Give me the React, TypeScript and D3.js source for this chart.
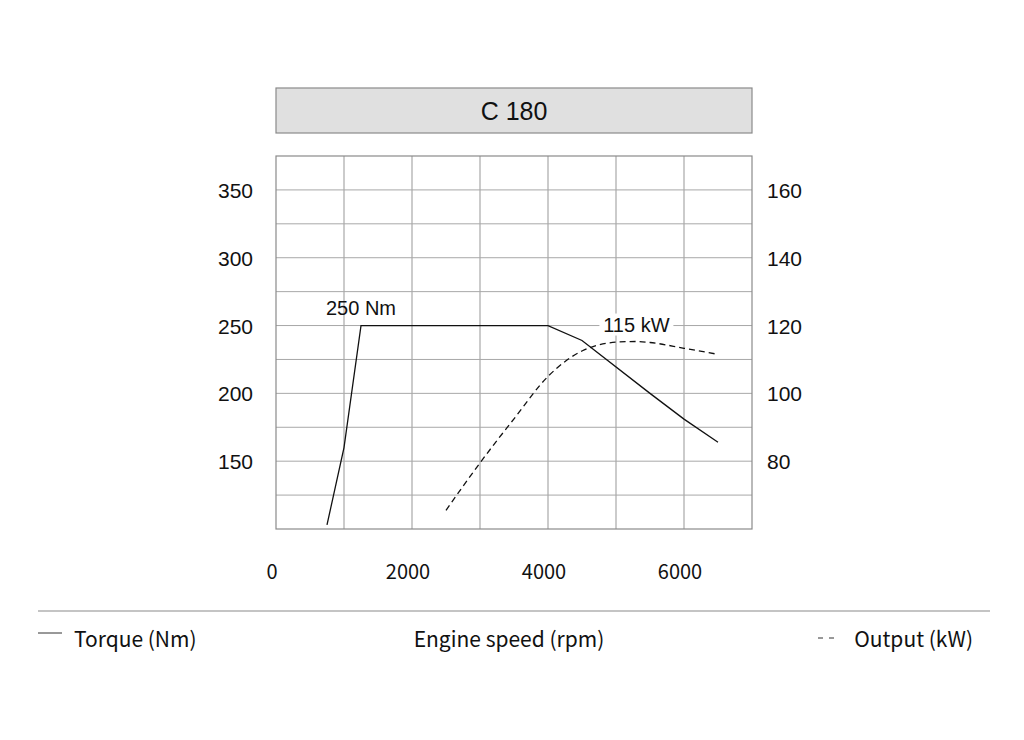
import React from 'react'
import * as d3 from 'd3'

const width = 1024
const height = 740

// engine speed (rpm) vs torque (Nm)
const torqueRpm = [750, 1000, 1250, 4000, 4500, 5500, 6000, 6500]
const torqueNm = [103, 160, 250, 250, 239, 200, 181, 164]

// engine speed (rpm) vs output (kW)
const powerRpm = [2500, 3000, 3500, 4000, 4500, 4750, 5000, 5300, 5500, 6000, 6500]
const powerKw = [65.5, 79.5, 92.5, 105, 112.5, 114.3, 115.1, 115.3, 115, 113.3, 111.5]

const xTicks = [0, 2000, 4000, 6000]
const leftTicks = [150, 200, 250, 300, 350]
const rightTicks = [80, 100, 120, 140, 160]
const xGrid = [1000, 2000, 3000, 4000, 5000, 6000]
const yGrid = [125, 150, 175, 200, 225, 250, 275, 300, 325, 350]

const title = 'C 180'
const torqueLabel = '250 Nm'
const powerLabel = '115 kW'

const plot = { left: 276, right: 752, top: 156, bottom: 529 }
const arial = '"Liberation Sans", Arial, sans-serif'
const noto = '"Noto Sans CJK JP", "Noto Sans", sans-serif'
const gridColor = '#a8a8a8'
const frameColor = '#8a8a8a'

const x = d3.scaleLinear().domain([0, 7000]).range([plot.left, plot.right])
const yL = d3.scaleLinear().domain([100, 375]).range([plot.bottom, plot.top])
const yR = d3.scaleLinear().domain([60, 170]).range([plot.bottom, plot.top])

const torqueLine = d3
  .line<number>()
  .x((d, i) => x(torqueRpm[i]))
  .y(d => yL(d))

const powerLine = d3
  .line<number>()
  .x((d, i) => x(powerRpm[i]))
  .y(d => yR(d))
  .curve(d3.curveMonotoneX)

const App = () => {
  const pw = plot.right - plot.left
  return (
    <svg width={width} height={height} style={{ position: 'absolute', left: 0, top: 0, background: '#fff' }}>
      {/* title box */}
      <rect x={plot.left} y={88} width={pw} height={45} fill="#e0e0e0" stroke={frameColor} strokeWidth={1.2} />
      <text x={(plot.left + plot.right) / 2} y={120} textAnchor="middle" fontFamily={arial} fontSize={25} fill="#111">
        {title}
      </text>

      {/* grid */}
      {yGrid.map(v => (
        <line key={'h' + v} x1={plot.left} x2={plot.right} y1={yL(v)} y2={yL(v)} stroke={gridColor} strokeWidth={1} />
      ))}
      {xGrid.map(v => (
        <line key={'v' + v} x1={x(v)} x2={x(v)} y1={plot.top} y2={plot.bottom} stroke={gridColor} strokeWidth={1.2} />
      ))}
      <rect x={plot.left} y={plot.top} width={pw} height={plot.bottom - plot.top} fill="none" stroke={frameColor} strokeWidth={1.2} />

      {/* axis labels */}
      {leftTicks.map(v => (
        <text key={'l' + v} x={253} y={yL(v) + 8} textAnchor="end" fontFamily={arial} fontSize={21} fill="#111">
          {v}
        </text>
      ))}
      {rightTicks.map(v => (
        <text key={'r' + v} x={767} y={yR(v) + 8} fontFamily={arial} fontSize={21} fill="#111">
          {v}
        </text>
      ))}
      {xTicks.map(v => (
        <text key={'x' + v} x={x(v) - 4} y={579} textAnchor="middle" fontFamily={noto} fontSize={20} fill="#111">
          {v}
        </text>
      ))}

      {/* curves */}
      <path d={torqueLine(torqueNm) || ''} fill="none" stroke="#111" strokeWidth={1.3} />
      <path d={powerLine(powerKw) || ''} fill="none" stroke="#111" strokeWidth={1.3} strokeDasharray="6 4" />

      {/* annotations */}
      <text x={x(1250)} y={yL(250) - 11} textAnchor="middle" fontFamily={arial} fontSize={20} fill="#111">
        {torqueLabel}
      </text>
      <rect x={x(5300) - 37} y={yR(120) - 12} width={74} height={22} fill="#fff" />
      <text x={x(5300)} y={yR(120) + 6} textAnchor="middle" fontFamily={arial} fontSize={20} fill="#111">
        {powerLabel}
      </text>

      {/* footer */}
      <line x1={38} x2={990} y1={611} y2={611} stroke={frameColor} strokeWidth={1.2} />
      <line x1={38} x2={62} y1={633} y2={633} stroke="#333" strokeWidth={1} />
      <text x={74} y={647} fontFamily={noto} fontSize={21} fill="#111">Torque (Nm)</text>
      <text x={509} y={647} textAnchor="middle" fontFamily={noto} fontSize={21} fill="#111">Engine speed (rpm)</text>
      <line x1={818} x2={834} y1={638} y2={638} stroke="#333" strokeWidth={1} strokeDasharray="5 6" />
      <text x={973} y={647} textAnchor="end" fontFamily={noto} fontSize={21} fill="#111">Output (kW)</text>
    </svg>
  )
}

export default App
